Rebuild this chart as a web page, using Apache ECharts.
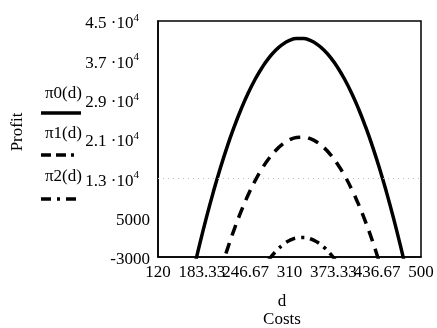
<!DOCTYPE html>
<html><head><meta charset="utf-8">
<script src="https://cdn.jsdelivr.net/npm/echarts@6/dist/echarts.min.js"></script>
<style>html,body{margin:0;padding:0;background:#fff}#c{width:437px;height:328px}</style>
</head><body><div id="c"></div>
<script>
// Costs d
var costs0 = [170,180,190,200,210,220,230,240,250,260,270,280,290,300,310,320,330,340,350,360,370,380,390,400,410,420,430,440,450,460,470,480];
var profit0 = [-6550,-550,5050,10250,15050,19450,23450,27050,30250,33050,35450,37450,39050,40250,41050,41450,41450,41050,40250,39050,37450,35450,33050,30250,27050,23450,19450,15050,10250,5050,-550,-6550];
var costs1 = [210,220,230,240,250,260,270,280,290,300,310,320,330,340,350,360,370,380,390,400,410,420,430,440];
var profit1 = [-5980,-1500,2580,6260,9540,12420,14900,16980,18660,19940,20820,21300,21380,21060,20340,19220,17700,15780,13460,10740,7620,4100,180,-4140];
var costs2 = [280,290,300,310,320,330,340,350,360,370,380];
var profit2 = [-3610,-1890,-570,350,870,990,710,30,-1050,-2530,-4410];
var xTicks = [120,183.333,246.667,310,373.333,436.667,500];
var yTicks = [-3000,5000,13000,21000,29000,37000,45000];
var yTickLabels = {'-3000':'-3000','5000':'5000','13000':['1.3','4'],'21000':['2.1','4'],'29000':['2.9','4'],'37000':['3.7','4'],'45000':['4.5','4']};
var seriesNames = ['π0(d)','π1(d)','π2(d)'];

function pairs(xs, ys){ return xs.map(function(x,i){return [x, ys[i]];}); }

var chart = echarts.init(document.getElementById('c'), null, {renderer:'canvas'});
var font = '"Liberation Serif","DejaVu Serif",serif';
var fs = 17;
var lw = 3.5;
chart.setOption({
  animation:false,
  backgroundColor:'#fff',
  grid:{left:158,right:16,top:21,bottom:71,show:true,borderColor:'#000',borderWidth:1.5,backgroundColor:'transparent'},
  xAxis:{type:'value',min:120,max:500,
    axisLine:{show:true,onZero:false,lineStyle:{color:'#000',width:1.5}},
    axisTick:{show:false},splitLine:{show:false},
    axisLabel:{customValues:xTicks,color:'#000',fontFamily:font,fontSize:fs,margin:7,
      formatter:function(v){var r=Math.round(v*100)/100;return String(r);}}},
  yAxis:{type:'value',min:-3000,max:45000,
    axisLine:{show:true,onZero:false,lineStyle:{color:'#000',width:1.5}},
    axisTick:{show:false},splitLine:{show:false},
    axisLabel:{customValues:yTicks,color:'#000',fontFamily:font,fontSize:fs,margin:8,
      formatter:function(v){var t=yTickLabels[String(Math.round(v))];
        if(!t) return '';
        if(typeof t==='string') return '{n|'+t+'}';
        return '{n|'+t[0]+' ·10}{s|'+t[1]+'}';},
      rich:{n:{fontFamily:font,fontSize:fs,color:'#000',padding:[6,0,0,0]},
            s:{fontFamily:font,fontSize:11,color:'#000',padding:[0,11,6,0]}}}},
  series:[
    {name:seriesNames[0],type:'line',data:pairs(costs0,profit0),smooth:true,showSymbol:false,clip:true,
      lineStyle:{color:'#000',width:lw,type:'solid'},
      markLine:{silent:true,symbol:'none',label:{show:false},lineStyle:{color:'#bbb',width:1,type:[1,4]},data:[{yAxis:13000}]}},
    {name:seriesNames[1],type:'line',data:pairs(costs1,profit1),smooth:true,showSymbol:false,clip:true,
      lineStyle:{color:'#000',width:lw,type:[11,8]}},
    {name:seriesNames[2],type:'line',data:pairs(costs2,profit2),smooth:true,showSymbol:false,clip:true,
      lineStyle:{color:'#000',width:lw,type:[10,6,3,6]}}
  ],
  graphic:[
    {type:'text',x:18,y:132,rotation:Math.PI/2,style:{text:'Profit',font:fs+'px '+font,fill:'#000',align:'center',verticalAlign:'middle'}},
    {type:'text',x:282,y:302,style:{text:'d',font:fs+'px '+font,fill:'#000',align:'center',verticalAlign:'middle'}},
    {type:'text',x:282,y:320,style:{text:'Costs',font:fs+'px '+font,fill:'#000',align:'center',verticalAlign:'middle'}},
    {type:'text',x:45,y:94,style:{text:seriesNames[0],font:fs+'px '+font,fill:'#000',verticalAlign:'middle'}},
    {type:'line',shape:{x1:41,y1:113,x2:81,y2:113},style:{stroke:'#000',lineWidth:3.5}},
    {type:'text',x:45,y:134,style:{text:seriesNames[1],font:fs+'px '+font,fill:'#000',verticalAlign:'middle'}},
    {type:'line',shape:{x1:41,y1:155,x2:81,y2:155},style:{stroke:'#000',lineWidth:3.5,lineDash:[10,5,10,5,3,10]}},
    {type:'text',x:45,y:177,style:{text:seriesNames[2],font:fs+'px '+font,fill:'#000',verticalAlign:'middle'}},
    {type:'line',shape:{x1:41,y1:199,x2:81,y2:199},style:{stroke:'#000',lineWidth:3.5,lineDash:[10,6,3,6,10,20]}}
  ]
});
</script></body></html>
